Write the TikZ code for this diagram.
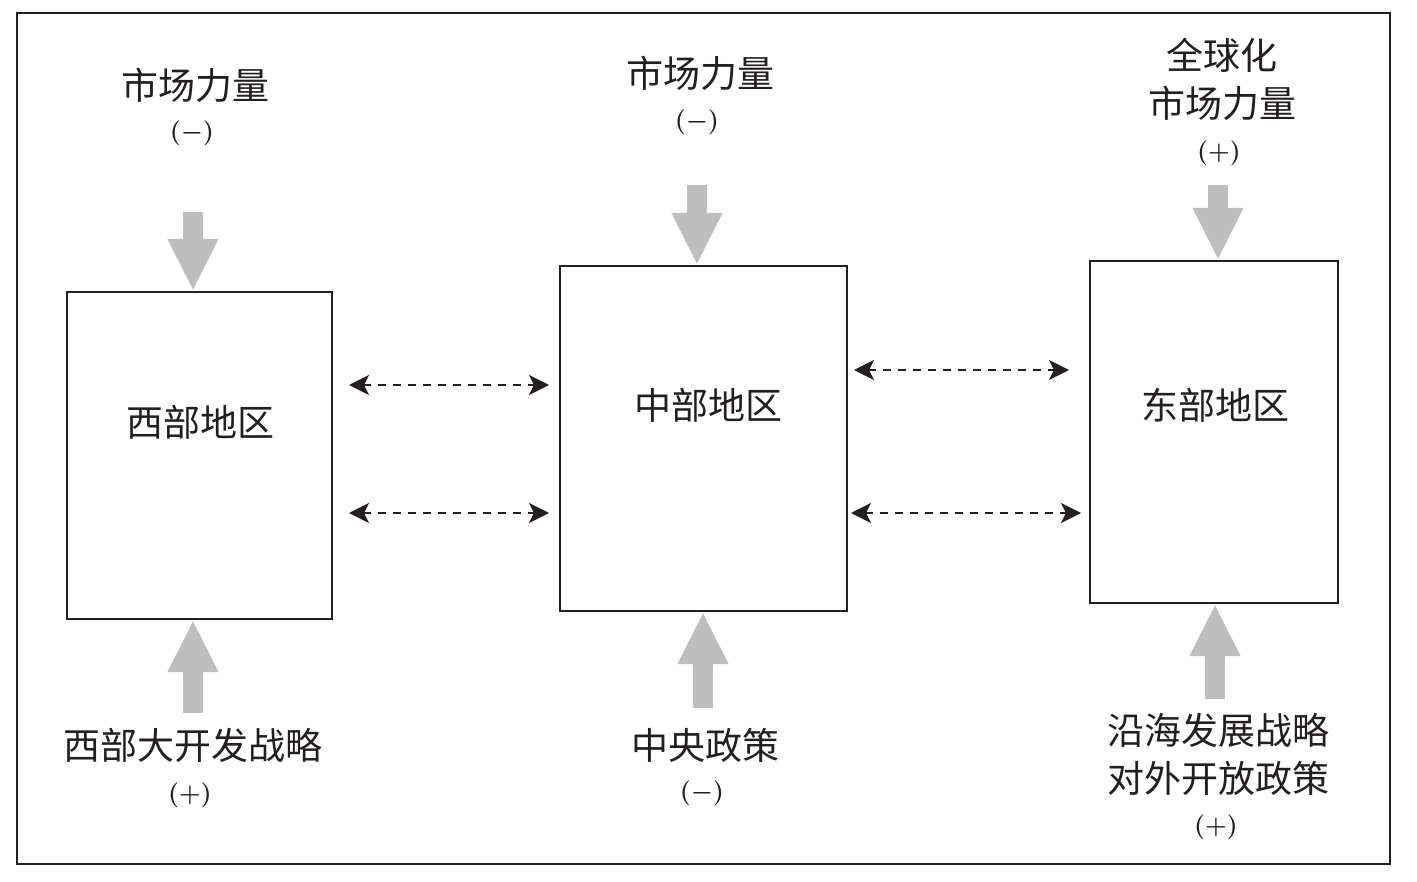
\documentclass[tikz,border=0pt]{standalone}
\usepackage{fontspec}
\setmainfont{Noto Sans CJK SC}
\usetikzlibrary{arrows.meta}
\definecolor{ink}{RGB}{35,31,32}
\definecolor{arrgray}{RGB}{190,190,190}
\tikzset{
  regionbox/.style={draw=ink, line width=2pt, inner sep=0pt},
  lbl/.style={text=ink, inner sep=0pt, font=\fontsize{37}{42}\selectfont},
  sign/.style={text=ink, inner sep=0pt, font=\fontsize{23}{26}\selectfont\boldmath},
  bigarrow/.style={draw=arrgray, line width=20pt, -{Triangle[width=47pt,length=52pt,fill=arrgray]}},
  dasharrow/.style={draw=ink, line width=2pt, dash pattern=on 8pt off 7pt,
     {Stealth[length=20pt,width=20pt,inset=5pt]}-{Stealth[length=20pt,width=20pt,inset=5pt]}}
}
\newcommand{\negsign}{$(-)$}
\newcommand{\possign}{$(+)$}
\begin{document}
\begin{tikzpicture}[x=1pt,y=-1pt]
\useasboundingbox (0,0) rectangle (1417,882);
\draw[ink, line width=2.5pt] (17,13) rectangle (1390,864);

% boxes
\node[regionbox, minimum width=265pt, minimum height=327pt] (W) at (199.5,455.5) {};
\node[regionbox, minimum width=287pt, minimum height=345pt] (M) at (703.5,438.5) {};
\node[regionbox, minimum width=248pt, minimum height=342pt] (E) at (1214,432) {};

\node[lbl] (Wl) at (200,422) {西部地区};
\node[lbl] (Ml) at (708,405) {中部地区};
\node[lbl] (El) at (1215,405) {东部地区};

% top labels
\node[lbl] (Wt) at (195,85) {市场力量};
\node[sign] (Wts) at (192,133) {\negsign};
\node[lbl] (Mt) at (700,73) {市场力量};
\node[sign] (Mts) at (697,122) {\negsign};
\node[lbl] (Et1) at (1222,55) {全球化};
\node[lbl] (Et2) at (1222,103) {市场力量};
\node[sign] (Ets) at (1219,153) {\possign};

% bottom labels
\node[lbl] (Wb) at (193,745) {西部大开发战略};
\node[sign] (Wbs) at (190,795) {\possign};
\node[lbl] (Mb) at (705,745) {中央政策};
\node[sign] (Mbs) at (702,793) {\negsign};
\node[lbl] (Eb1) at (1218,730) {沿海发展战略};
\node[lbl] (Eb2) at (1218,778) {对外开放政策};
\node[sign] (Ebs) at (1216,827) {\possign};

% gray arrows
\coordinate (wt) at (193,212);
\coordinate (mt) at (697,185);
\coordinate (et) at (1218,185);
\coordinate (wb) at (193,713);
\coordinate (mb) at (703,708);
\coordinate (eb) at (1215,699);
\draw[bigarrow] (wt) -- (wt |- W.north);
\draw[bigarrow] (mt) -- (mt |- M.north);
\draw[bigarrow] (et) -- (et |- E.north);
\draw[bigarrow] (wb) -- (wb |- W.south);
\draw[bigarrow] (mb) -- (mb |- M.south);
\draw[bigarrow] (eb) -- (eb |- E.south);

% dashed double arrows
\draw[dasharrow, shorten <=16pt, shorten >=10pt] (W.east |- 0,385) -- (M.west |- 0,385);
\draw[dasharrow, shorten <=16pt, shorten >=10pt] (W.east |- 0,513) -- (M.west |- 0,513);
\draw[dasharrow, shorten <=6pt, shorten >=20pt] (M.east |- 0,370) -- (E.west |- 0,370);
\draw[dasharrow, shorten <=3pt, shorten >=8pt] (M.east |- 0,513) -- (E.west |- 0,513);
\end{tikzpicture}
\end{document}
